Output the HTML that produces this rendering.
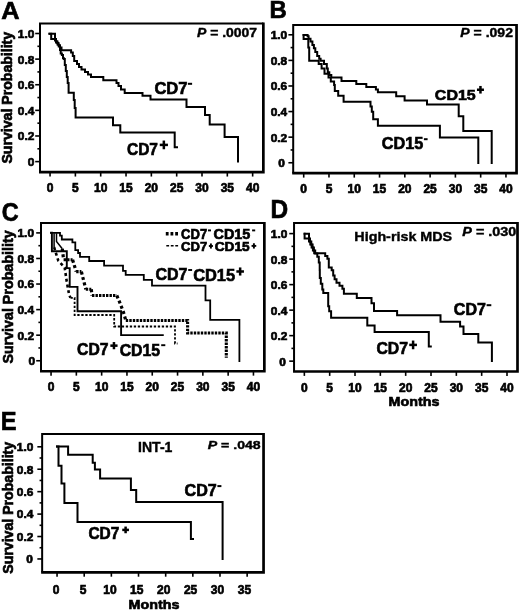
<!DOCTYPE html>
<html><head><meta charset="utf-8"><style>
html,body{margin:0;padding:0;background:#fff;}
svg{display:block;filter:grayscale(1);}
text{font-family:"Liberation Sans", sans-serif;font-weight:bold;fill:#000;stroke:#000;stroke-width:0.65px;}
.yl{font-size:11px;}
.xl{font-size:12px;}
.pv{stroke-width:0.4px;}
</style></head><body>
<svg width="520" height="611" viewBox="0 0 520 611">
<rect x="0" y="0" width="520" height="611" fill="#fff"/>
<text x="1.17" y="18.50" class="pl" style="font-size:24.71px" textLength="18.30" lengthAdjust="spacingAndGlyphs">A</text>
<text x="269.50" y="18.20" class="pl" style="font-size:24.27px" textLength="17.29" lengthAdjust="spacingAndGlyphs">B</text>
<text x="1.64" y="221.15" class="pl" style="font-size:25.71px" textLength="16.90" lengthAdjust="spacingAndGlyphs">C</text>
<text x="270.56" y="217.50" class="pl" style="font-size:26.02px" textLength="17.66" lengthAdjust="spacingAndGlyphs">D</text>
<text x="0.71" y="430.40" class="pl" style="font-size:25.58px" textLength="15.81" lengthAdjust="spacingAndGlyphs">E</text>
<path d="M40.0 172.15 V23.55 H263.35" fill="none" stroke="#000" stroke-width="2.0" stroke-linecap="butt"/>
<path d="M39.00 172.15 H263.35 V22.55" fill="none" stroke="#000" stroke-width="2.7" stroke-linecap="butt"/>
<line x1="35.20" y1="161.60" x2="40.0" y2="161.60" stroke="#000" stroke-width="1.6"/>
<text x="27.69" y="166.00" class="yl" textLength="6.61" lengthAdjust="spacingAndGlyphs">0</text>
<line x1="37.40" y1="148.79" x2="40.0" y2="148.79" stroke="#000" stroke-width="1.6"/>
<line x1="35.20" y1="135.98" x2="40.0" y2="135.98" stroke="#000" stroke-width="1.6"/>
<text x="17.79" y="140.38" class="yl" textLength="16.51" lengthAdjust="spacingAndGlyphs">0.2</text>
<line x1="37.40" y1="123.17" x2="40.0" y2="123.17" stroke="#000" stroke-width="1.6"/>
<line x1="35.20" y1="110.36" x2="40.0" y2="110.36" stroke="#000" stroke-width="1.6"/>
<text x="17.79" y="114.76" class="yl" textLength="16.51" lengthAdjust="spacingAndGlyphs">0.4</text>
<line x1="37.40" y1="97.55" x2="40.0" y2="97.55" stroke="#000" stroke-width="1.6"/>
<line x1="35.20" y1="84.74" x2="40.0" y2="84.74" stroke="#000" stroke-width="1.6"/>
<text x="17.79" y="89.14" class="yl" textLength="16.51" lengthAdjust="spacingAndGlyphs">0.6</text>
<line x1="37.40" y1="71.93" x2="40.0" y2="71.93" stroke="#000" stroke-width="1.6"/>
<line x1="35.20" y1="59.12" x2="40.0" y2="59.12" stroke="#000" stroke-width="1.6"/>
<text x="17.79" y="63.52" class="yl" textLength="16.51" lengthAdjust="spacingAndGlyphs">0.8</text>
<line x1="37.40" y1="46.31" x2="40.0" y2="46.31" stroke="#000" stroke-width="1.6"/>
<line x1="35.20" y1="33.50" x2="40.0" y2="33.50" stroke="#000" stroke-width="1.6"/>
<text x="17.79" y="37.90" class="yl" textLength="16.51" lengthAdjust="spacingAndGlyphs">1.0</text>
<line x1="50.05" y1="172.15" x2="50.05" y2="176.55" stroke="#000" stroke-width="1.6"/>
<text x="50.05" y="191.6" text-anchor="middle" class="xl">0</text>
<line x1="75.38" y1="172.15" x2="75.38" y2="176.55" stroke="#000" stroke-width="1.6"/>
<text x="75.38" y="191.6" text-anchor="middle" class="xl">5</text>
<line x1="100.70" y1="172.15" x2="100.70" y2="176.55" stroke="#000" stroke-width="1.6"/>
<text x="100.70" y="191.6" text-anchor="middle" class="xl">10</text>
<line x1="126.03" y1="172.15" x2="126.03" y2="176.55" stroke="#000" stroke-width="1.6"/>
<text x="126.03" y="191.6" text-anchor="middle" class="xl">15</text>
<line x1="151.35" y1="172.15" x2="151.35" y2="176.55" stroke="#000" stroke-width="1.6"/>
<text x="151.35" y="191.6" text-anchor="middle" class="xl">20</text>
<line x1="176.68" y1="172.15" x2="176.68" y2="176.55" stroke="#000" stroke-width="1.6"/>
<text x="176.68" y="191.6" text-anchor="middle" class="xl">25</text>
<line x1="202.00" y1="172.15" x2="202.00" y2="176.55" stroke="#000" stroke-width="1.6"/>
<text x="202.00" y="191.6" text-anchor="middle" class="xl">30</text>
<line x1="227.32" y1="172.15" x2="227.32" y2="176.55" stroke="#000" stroke-width="1.6"/>
<text x="227.32" y="191.6" text-anchor="middle" class="xl">35</text>
<line x1="252.65" y1="172.15" x2="252.65" y2="176.55" stroke="#000" stroke-width="1.6"/>
<text x="252.65" y="191.6" text-anchor="middle" class="xl">40</text>
<path d="M293.2 173.2 V24.95 H516.55" fill="none" stroke="#000" stroke-width="2.0" stroke-linecap="butt"/>
<path d="M292.20 173.2 H516.55 V23.95" fill="none" stroke="#000" stroke-width="2.7" stroke-linecap="butt"/>
<line x1="288.40" y1="162.75" x2="293.2" y2="162.75" stroke="#000" stroke-width="1.6"/>
<text x="278.29" y="167.15" class="yl" textLength="6.61" lengthAdjust="spacingAndGlyphs">0</text>
<line x1="290.60" y1="149.95" x2="293.2" y2="149.95" stroke="#000" stroke-width="1.6"/>
<line x1="288.40" y1="137.16" x2="293.2" y2="137.16" stroke="#000" stroke-width="1.6"/>
<text x="270.69" y="141.56" class="yl" textLength="16.51" lengthAdjust="spacingAndGlyphs">0.2</text>
<line x1="290.60" y1="124.37" x2="293.2" y2="124.37" stroke="#000" stroke-width="1.6"/>
<line x1="288.40" y1="111.57" x2="293.2" y2="111.57" stroke="#000" stroke-width="1.6"/>
<text x="270.69" y="115.97" class="yl" textLength="16.51" lengthAdjust="spacingAndGlyphs">0.4</text>
<line x1="290.60" y1="98.78" x2="293.2" y2="98.78" stroke="#000" stroke-width="1.6"/>
<line x1="288.40" y1="85.98" x2="293.2" y2="85.98" stroke="#000" stroke-width="1.6"/>
<text x="270.69" y="90.38" class="yl" textLength="16.51" lengthAdjust="spacingAndGlyphs">0.6</text>
<line x1="290.60" y1="73.19" x2="293.2" y2="73.19" stroke="#000" stroke-width="1.6"/>
<line x1="288.40" y1="60.39" x2="293.2" y2="60.39" stroke="#000" stroke-width="1.6"/>
<text x="270.69" y="64.79" class="yl" textLength="16.51" lengthAdjust="spacingAndGlyphs">0.8</text>
<line x1="290.60" y1="47.59" x2="293.2" y2="47.59" stroke="#000" stroke-width="1.6"/>
<line x1="288.40" y1="34.80" x2="293.2" y2="34.80" stroke="#000" stroke-width="1.6"/>
<text x="270.69" y="39.20" class="yl" textLength="16.51" lengthAdjust="spacingAndGlyphs">1.0</text>
<line x1="303.70" y1="173.2" x2="303.70" y2="177.60" stroke="#000" stroke-width="1.6"/>
<text x="303.70" y="193.0" text-anchor="middle" class="xl">0</text>
<line x1="328.98" y1="173.2" x2="328.98" y2="177.60" stroke="#000" stroke-width="1.6"/>
<text x="328.98" y="193.0" text-anchor="middle" class="xl">5</text>
<line x1="354.26" y1="173.2" x2="354.26" y2="177.60" stroke="#000" stroke-width="1.6"/>
<text x="354.26" y="193.0" text-anchor="middle" class="xl">10</text>
<line x1="379.54" y1="173.2" x2="379.54" y2="177.60" stroke="#000" stroke-width="1.6"/>
<text x="379.54" y="193.0" text-anchor="middle" class="xl">15</text>
<line x1="404.82" y1="173.2" x2="404.82" y2="177.60" stroke="#000" stroke-width="1.6"/>
<text x="404.82" y="193.0" text-anchor="middle" class="xl">20</text>
<line x1="430.11" y1="173.2" x2="430.11" y2="177.60" stroke="#000" stroke-width="1.6"/>
<text x="430.11" y="193.0" text-anchor="middle" class="xl">25</text>
<line x1="455.39" y1="173.2" x2="455.39" y2="177.60" stroke="#000" stroke-width="1.6"/>
<text x="455.39" y="193.0" text-anchor="middle" class="xl">30</text>
<line x1="480.67" y1="173.2" x2="480.67" y2="177.60" stroke="#000" stroke-width="1.6"/>
<text x="480.67" y="193.0" text-anchor="middle" class="xl">35</text>
<line x1="505.95" y1="173.2" x2="505.95" y2="177.60" stroke="#000" stroke-width="1.6"/>
<text x="505.95" y="193.0" text-anchor="middle" class="xl">40</text>
<path d="M41.0 371.25 V222.9 H264.35" fill="none" stroke="#000" stroke-width="2.0" stroke-linecap="butt"/>
<path d="M40.00 371.25 H264.35 V221.90" fill="none" stroke="#000" stroke-width="2.7" stroke-linecap="butt"/>
<line x1="36.20" y1="360.75" x2="41.0" y2="360.75" stroke="#000" stroke-width="1.6"/>
<text x="28.49" y="365.15" class="yl" textLength="6.61" lengthAdjust="spacingAndGlyphs">0</text>
<line x1="38.40" y1="347.96" x2="41.0" y2="347.96" stroke="#000" stroke-width="1.6"/>
<line x1="36.20" y1="335.18" x2="41.0" y2="335.18" stroke="#000" stroke-width="1.6"/>
<text x="17.49" y="339.58" class="yl" textLength="16.51" lengthAdjust="spacingAndGlyphs">0.2</text>
<line x1="38.40" y1="322.39" x2="41.0" y2="322.39" stroke="#000" stroke-width="1.6"/>
<line x1="36.20" y1="309.61" x2="41.0" y2="309.61" stroke="#000" stroke-width="1.6"/>
<text x="17.49" y="314.01" class="yl" textLength="16.51" lengthAdjust="spacingAndGlyphs">0.4</text>
<line x1="38.40" y1="296.82" x2="41.0" y2="296.82" stroke="#000" stroke-width="1.6"/>
<line x1="36.20" y1="284.04" x2="41.0" y2="284.04" stroke="#000" stroke-width="1.6"/>
<text x="17.49" y="288.44" class="yl" textLength="16.51" lengthAdjust="spacingAndGlyphs">0.6</text>
<line x1="38.40" y1="271.25" x2="41.0" y2="271.25" stroke="#000" stroke-width="1.6"/>
<line x1="36.20" y1="258.47" x2="41.0" y2="258.47" stroke="#000" stroke-width="1.6"/>
<text x="17.49" y="262.87" class="yl" textLength="16.51" lengthAdjust="spacingAndGlyphs">0.8</text>
<line x1="38.40" y1="245.69" x2="41.0" y2="245.69" stroke="#000" stroke-width="1.6"/>
<line x1="36.20" y1="232.90" x2="41.0" y2="232.90" stroke="#000" stroke-width="1.6"/>
<text x="17.49" y="237.30" class="yl" textLength="16.51" lengthAdjust="spacingAndGlyphs">1.0</text>
<line x1="51.05" y1="371.25" x2="51.05" y2="375.65" stroke="#000" stroke-width="1.6"/>
<text x="51.05" y="391.2" text-anchor="middle" class="xl">0</text>
<line x1="76.35" y1="371.25" x2="76.35" y2="375.65" stroke="#000" stroke-width="1.6"/>
<text x="76.35" y="391.2" text-anchor="middle" class="xl">5</text>
<line x1="101.65" y1="371.25" x2="101.65" y2="375.65" stroke="#000" stroke-width="1.6"/>
<text x="101.65" y="391.2" text-anchor="middle" class="xl">10</text>
<line x1="126.95" y1="371.25" x2="126.95" y2="375.65" stroke="#000" stroke-width="1.6"/>
<text x="126.95" y="391.2" text-anchor="middle" class="xl">15</text>
<line x1="152.25" y1="371.25" x2="152.25" y2="375.65" stroke="#000" stroke-width="1.6"/>
<text x="152.25" y="391.2" text-anchor="middle" class="xl">20</text>
<line x1="177.55" y1="371.25" x2="177.55" y2="375.65" stroke="#000" stroke-width="1.6"/>
<text x="177.55" y="391.2" text-anchor="middle" class="xl">25</text>
<line x1="202.85" y1="371.25" x2="202.85" y2="375.65" stroke="#000" stroke-width="1.6"/>
<text x="202.85" y="391.2" text-anchor="middle" class="xl">30</text>
<line x1="228.15" y1="371.25" x2="228.15" y2="375.65" stroke="#000" stroke-width="1.6"/>
<text x="228.15" y="391.2" text-anchor="middle" class="xl">35</text>
<line x1="253.45" y1="371.25" x2="253.45" y2="375.65" stroke="#000" stroke-width="1.6"/>
<text x="253.45" y="391.2" text-anchor="middle" class="xl">40</text>
<path d="M294.05 371.5 V223.1 H517.5" fill="none" stroke="#000" stroke-width="2.0" stroke-linecap="butt"/>
<path d="M293.05 371.5 H517.5 V222.10" fill="none" stroke="#000" stroke-width="2.7" stroke-linecap="butt"/>
<line x1="289.25" y1="361.15" x2="294.05" y2="361.15" stroke="#000" stroke-width="1.6"/>
<text x="279.39" y="365.55" class="yl" textLength="6.61" lengthAdjust="spacingAndGlyphs">0</text>
<line x1="291.45" y1="348.39" x2="294.05" y2="348.39" stroke="#000" stroke-width="1.6"/>
<line x1="289.25" y1="335.64" x2="294.05" y2="335.64" stroke="#000" stroke-width="1.6"/>
<text x="270.79" y="340.04" class="yl" textLength="16.51" lengthAdjust="spacingAndGlyphs">0.2</text>
<line x1="291.45" y1="322.88" x2="294.05" y2="322.88" stroke="#000" stroke-width="1.6"/>
<line x1="289.25" y1="310.13" x2="294.05" y2="310.13" stroke="#000" stroke-width="1.6"/>
<text x="270.79" y="314.53" class="yl" textLength="16.51" lengthAdjust="spacingAndGlyphs">0.4</text>
<line x1="291.45" y1="297.38" x2="294.05" y2="297.38" stroke="#000" stroke-width="1.6"/>
<line x1="289.25" y1="284.62" x2="294.05" y2="284.62" stroke="#000" stroke-width="1.6"/>
<text x="270.79" y="289.02" class="yl" textLength="16.51" lengthAdjust="spacingAndGlyphs">0.6</text>
<line x1="291.45" y1="271.87" x2="294.05" y2="271.87" stroke="#000" stroke-width="1.6"/>
<line x1="289.25" y1="259.11" x2="294.05" y2="259.11" stroke="#000" stroke-width="1.6"/>
<text x="270.79" y="263.51" class="yl" textLength="16.51" lengthAdjust="spacingAndGlyphs">0.8</text>
<line x1="291.45" y1="246.35" x2="294.05" y2="246.35" stroke="#000" stroke-width="1.6"/>
<line x1="289.25" y1="233.60" x2="294.05" y2="233.60" stroke="#000" stroke-width="1.6"/>
<text x="270.79" y="238.00" class="yl" textLength="16.51" lengthAdjust="spacingAndGlyphs">1.0</text>
<line x1="304.35" y1="371.5" x2="304.35" y2="375.90" stroke="#000" stroke-width="1.6"/>
<text x="304.35" y="391.8" text-anchor="middle" class="xl">0</text>
<line x1="329.68" y1="371.5" x2="329.68" y2="375.90" stroke="#000" stroke-width="1.6"/>
<text x="329.68" y="391.8" text-anchor="middle" class="xl">5</text>
<line x1="355.01" y1="371.5" x2="355.01" y2="375.90" stroke="#000" stroke-width="1.6"/>
<text x="355.01" y="391.8" text-anchor="middle" class="xl">10</text>
<line x1="380.34" y1="371.5" x2="380.34" y2="375.90" stroke="#000" stroke-width="1.6"/>
<text x="380.34" y="391.8" text-anchor="middle" class="xl">15</text>
<line x1="405.68" y1="371.5" x2="405.68" y2="375.90" stroke="#000" stroke-width="1.6"/>
<text x="405.68" y="391.8" text-anchor="middle" class="xl">20</text>
<line x1="431.01" y1="371.5" x2="431.01" y2="375.90" stroke="#000" stroke-width="1.6"/>
<text x="431.01" y="391.8" text-anchor="middle" class="xl">25</text>
<line x1="456.34" y1="371.5" x2="456.34" y2="375.90" stroke="#000" stroke-width="1.6"/>
<text x="456.34" y="391.8" text-anchor="middle" class="xl">30</text>
<line x1="481.67" y1="371.5" x2="481.67" y2="375.90" stroke="#000" stroke-width="1.6"/>
<text x="481.67" y="391.8" text-anchor="middle" class="xl">35</text>
<line x1="507.00" y1="371.5" x2="507.00" y2="375.90" stroke="#000" stroke-width="1.6"/>
<text x="507.00" y="391.8" text-anchor="middle" class="xl">40</text>
<path d="M42.15 572.3 V433.9 H263.55" fill="none" stroke="#000" stroke-width="2.0" stroke-linecap="butt"/>
<path d="M41.15 572.3 H263.55 V432.90" fill="none" stroke="#000" stroke-width="2.7" stroke-linecap="butt"/>
<line x1="37.35" y1="558.95" x2="42.15" y2="558.95" stroke="#000" stroke-width="1.6"/>
<text x="26.29" y="563.35" class="yl" textLength="6.61" lengthAdjust="spacingAndGlyphs">0</text>
<line x1="39.55" y1="547.74" x2="42.15" y2="547.74" stroke="#000" stroke-width="1.6"/>
<line x1="37.35" y1="536.52" x2="42.15" y2="536.52" stroke="#000" stroke-width="1.6"/>
<text x="16.89" y="540.92" class="yl" textLength="16.51" lengthAdjust="spacingAndGlyphs">0.2</text>
<line x1="39.55" y1="525.31" x2="42.15" y2="525.31" stroke="#000" stroke-width="1.6"/>
<line x1="37.35" y1="514.09" x2="42.15" y2="514.09" stroke="#000" stroke-width="1.6"/>
<text x="16.89" y="518.49" class="yl" textLength="16.51" lengthAdjust="spacingAndGlyphs">0.4</text>
<line x1="39.55" y1="502.88" x2="42.15" y2="502.88" stroke="#000" stroke-width="1.6"/>
<line x1="37.35" y1="491.66" x2="42.15" y2="491.66" stroke="#000" stroke-width="1.6"/>
<text x="16.89" y="496.06" class="yl" textLength="16.51" lengthAdjust="spacingAndGlyphs">0.6</text>
<line x1="39.55" y1="480.45" x2="42.15" y2="480.45" stroke="#000" stroke-width="1.6"/>
<line x1="37.35" y1="469.23" x2="42.15" y2="469.23" stroke="#000" stroke-width="1.6"/>
<text x="16.89" y="473.63" class="yl" textLength="16.51" lengthAdjust="spacingAndGlyphs">0.8</text>
<line x1="39.55" y1="458.01" x2="42.15" y2="458.01" stroke="#000" stroke-width="1.6"/>
<line x1="37.35" y1="446.80" x2="42.15" y2="446.80" stroke="#000" stroke-width="1.6"/>
<text x="16.89" y="451.20" class="yl" textLength="16.51" lengthAdjust="spacingAndGlyphs">1.0</text>
<line x1="57.05" y1="572.3" x2="57.05" y2="576.70" stroke="#000" stroke-width="1.6"/>
<text x="56.10" y="593.8" text-anchor="middle" class="xl">0</text>
<line x1="84.21" y1="572.3" x2="84.21" y2="576.70" stroke="#000" stroke-width="1.6"/>
<text x="83.00" y="593.8" text-anchor="middle" class="xl">5</text>
<line x1="111.36" y1="572.3" x2="111.36" y2="576.70" stroke="#000" stroke-width="1.6"/>
<text x="109.90" y="593.8" text-anchor="middle" class="xl">10</text>
<line x1="138.52" y1="572.3" x2="138.52" y2="576.70" stroke="#000" stroke-width="1.6"/>
<text x="136.80" y="593.8" text-anchor="middle" class="xl">15</text>
<line x1="165.68" y1="572.3" x2="165.68" y2="576.70" stroke="#000" stroke-width="1.6"/>
<text x="163.70" y="593.8" text-anchor="middle" class="xl">20</text>
<line x1="192.84" y1="572.3" x2="192.84" y2="576.70" stroke="#000" stroke-width="1.6"/>
<text x="190.60" y="593.8" text-anchor="middle" class="xl">25</text>
<line x1="219.99" y1="572.3" x2="219.99" y2="576.70" stroke="#000" stroke-width="1.6"/>
<text x="217.50" y="593.8" text-anchor="middle" class="xl">30</text>
<line x1="247.15" y1="572.3" x2="247.15" y2="576.70" stroke="#000" stroke-width="1.6"/>
<text x="244.40" y="593.8" text-anchor="middle" class="xl">35</text>
<text x="0" y="0" class="yt" style="font-size:14px" textLength="131.78" lengthAdjust="spacingAndGlyphs" transform="translate(12.30,163.61) rotate(-90)">Survival Probability</text>
<text x="0" y="0" class="yt" style="font-size:14px" textLength="133.19" lengthAdjust="spacingAndGlyphs" transform="translate(12.50,363.61) rotate(-90)">Survival Probability</text>
<text x="0" y="0" class="yt" style="font-size:14px" textLength="131.88" lengthAdjust="spacingAndGlyphs" transform="translate(13.20,573.71) rotate(-90)">Survival Probability</text>
<text x="128.54" y="608.67" class="mt" style="font-size:13.07px" textLength="50.84" lengthAdjust="spacingAndGlyphs">Months</text>
<text x="388.54" y="406.37" class="mt" style="font-size:13.34px" textLength="50.84" lengthAdjust="spacingAndGlyphs">Months</text>
<text x="196.97" y="37.07" class="pv" style="font-size:12.99px" textLength="60.15" lengthAdjust="spacingAndGlyphs"><tspan font-style="italic">P</tspan> = .0007</text>
<path d="M49.5 33.8 H55 V39 H56 V41.3 H57.3 V43 H58.5 V45.3 H60 V47.6 H61.5 V50.2 H71.1 V52.5 H72.8 V56 H74.2 V61 H77 V64 H79 V67 H81.5 V69.5 H85 V72 H88 V74.5 H91 V77 H103.3 V80.2 H116.5 V83 H118.5 V86 H121 V89.5 H124.7 V93 H142.5 V95.8 H150.5 V99.6 H186.5 V106.9 H205 V115 H209.7 V124.6 H224.6 V136.9 H238 V161.6" fill="none" stroke="#000" stroke-width="2.0" stroke-linejoin="miter" stroke-linecap="square"/>
<path d="M49.5 33.8 H51.2 V39 H55 V40.5 H56 V42.5 H57.5 V44.5 H58.8 V46.5 H60 V50 H60.7 V53.4 H61.9 V55.1 H63 V58 H63.7 V59 H64.8 V65 H65.8 V71 H66.8 V77 H67.7 V83 H68.6 V92.8 H73.8 V100 H74.7 V108 H75.6 V117.5 H113 V125.2 H120.3 V132.4 H174.7 V147.3 H177" fill="none" stroke="#000" stroke-width="2.0" stroke-linejoin="miter" stroke-linecap="square"/>
<text x="154.42" y="93.54" class="cl" style="font-size:16.24px" textLength="33.11" lengthAdjust="spacingAndGlyphs">CD7</text>
<rect x="187.90" y="82.80" width="4.20" height="2.0" fill="#000"/>
<text x="126.96" y="154.74" class="cl" style="font-size:16.81px" textLength="31.02" lengthAdjust="spacingAndGlyphs">CD7</text>
<rect x="159.75" y="143.65" width="8.20" height="2.5" fill="#000"/>
<rect x="162.60" y="140.55" width="2.5" height="8.70" fill="#000"/>
<text x="460.36" y="37.27" class="pv" style="font-size:12.85px" textLength="52.60" lengthAdjust="spacingAndGlyphs"><tspan font-style="italic">P</tspan> = .092</text>
<path d="M303.6 35 V39 H308.3 V47.5 H309.2 V60.8 H318.7 V64.1 H321.6 V68.5 H324.5 V73.8 H328.5 V77.5 H330.8 V81.5 H334.1 V84.9 H334.8 V91 H338.2 V95.7 H343.6 V101.7 H370.5 V106.4 H371.8 V111.8 H373.2 V119.2 H377.9 V125.8 H439.9 V137.6 H478.3 V163" fill="none" stroke="#000" stroke-width="2.0" stroke-linejoin="miter" stroke-linecap="square"/>
<path d="M303.6 35 H307.6 V36.3 H308.6 V38.7 H310.5 V41.5 H312.4 V44.9 H313.9 V48.3 H315.3 V52.1 H317.2 V56 H319.2 V58.8 H320.6 V60.8 H324 V64.1 H326.8 V68.5 H327.8 V72.3 H329.3 V75 H331.3 V77.6 H341.5 V80.9 H356.3 V84 H366.3 V87 H375.9 V89.6 H377.9 V92.3 H396.2 V96.2 H404.6 V100.6 H427 V104.6 H458.7 V116.3 H463.3 V131 H491.7 V163" fill="none" stroke="#000" stroke-width="2.0" stroke-linejoin="miter" stroke-linecap="square"/>
<text x="434.84" y="99.65" class="cl" style="font-size:15.40px" textLength="40.90" lengthAdjust="spacingAndGlyphs">CD15</text>
<rect x="476.95" y="88.50" width="7.00" height="2.5" fill="#000"/>
<rect x="479.20" y="85.95" width="2.5" height="7.60" fill="#000"/>
<text x="381.83" y="148.64" class="cl" style="font-size:16.67px" textLength="41.52" lengthAdjust="spacingAndGlyphs">CD15</text>
<rect x="423.90" y="138.20" width="3.70" height="2.0" fill="#000"/>
<path d="M165.8 233.8 H178.2" fill="none" stroke="#000" stroke-width="3.4" stroke-linejoin="miter" stroke-linecap="butt" stroke-dasharray="2.8,1.9"/>
<path d="M166.3 245.8 H178.2" fill="none" stroke="#000" stroke-width="1.5" stroke-linejoin="miter" stroke-linecap="butt" stroke-dasharray="2.8,1.7"/>
<text x="181.06" y="238.56" class="lg" style="font-size:13.84px" textLength="26.11" lengthAdjust="spacingAndGlyphs">CD7</text>
<rect x="208.00" y="229.45" width="3.00" height="1.9" fill="#000"/>
<text x="213.51" y="238.56" class="lg" style="font-size:13.84px" textLength="36.79" lengthAdjust="spacingAndGlyphs">CD15</text>
<rect x="252.10" y="229.45" width="3.10" height="1.9" fill="#000"/>
<text x="181.06" y="251.27" class="lg" style="font-size:12.99px" textLength="26.11" lengthAdjust="spacingAndGlyphs">CD7</text>
<rect x="208.85" y="245.05" width="4.10" height="1.9" fill="#000"/>
<rect x="209.95" y="243.45" width="1.9" height="5.10" fill="#000"/>
<text x="214.74" y="251.27" class="lg" style="font-size:12.99px" textLength="34.94" lengthAdjust="spacingAndGlyphs">CD15</text>
<rect x="251.55" y="244.95" width="4.70" height="1.9" fill="#000"/>
<rect x="252.95" y="243.25" width="1.9" height="5.30" fill="#000"/>
<path d="M51.1 232.8 H60 V235.7 H61.8 V239.5 H72.4 V242.4 H75.3 V250.1 H78.1 V253 H80 V256.8 H89.2 V261 H104.1 V265.7 H123 V270.9 H125.7 V274.9 H143.8 V279.8 H152 V285.6 H205.5 V300.3 H210.2 V319.8 H239.4 V361" fill="none" stroke="#000" stroke-width="1.8" stroke-linejoin="miter" stroke-linecap="square"/>
<path d="M51.1 232.8 H51.9 V251.2 H66.8 V268.1 H69.7 V286.9 H77.5 V311.3 H121.1 V335.1 H162.8" fill="none" stroke="#000" stroke-width="1.9" stroke-linejoin="miter" stroke-linecap="square"/>
<path d="M56.5 233.2 V241.5 L62.3 248.7" fill="none" stroke="#000" stroke-width="1.5" stroke-linejoin="miter" stroke-linecap="butt"/>
<path d="M62.30 248.70 L63.60 259.80" fill="none" stroke="#000" stroke-width="3.2" stroke-linejoin="miter" stroke-dasharray="3,2.6"/>
<path d="M63.60 259.80 L72.60 259.80" fill="none" stroke="#000" stroke-width="3.1" stroke-linejoin="miter" stroke-dasharray="2.4,1.1"/>
<path d="M72.60 259.80 L76.20 271.60" fill="none" stroke="#000" stroke-width="3.2" stroke-linejoin="miter" stroke-dasharray="3,2.6"/>
<path d="M76.20 271.60 L81.40 271.60" fill="none" stroke="#000" stroke-width="3.1" stroke-linejoin="miter" stroke-dasharray="2.4,1.1"/>
<path d="M81.40 271.60 L85.80 289.30" fill="none" stroke="#000" stroke-width="3.2" stroke-linejoin="miter" stroke-dasharray="3,2.6"/>
<path d="M85.80 289.30 L91.30 289.30" fill="none" stroke="#000" stroke-width="3.1" stroke-linejoin="miter" stroke-dasharray="2.4,1.1"/>
<path d="M91.30 289.30 L92.00 295.50" fill="none" stroke="#000" stroke-width="3.2" stroke-linejoin="miter" stroke-dasharray="3,2.6"/>
<path d="M92.00 295.50 L116.80 295.50" fill="none" stroke="#000" stroke-width="3.1" stroke-linejoin="miter" stroke-dasharray="2.4,1.1"/>
<path d="M116.80 295.50 L120.00 303.00 L123.50 312.30 L125.80 320.50" fill="none" stroke="#000" stroke-width="3.2" stroke-linejoin="miter" stroke-dasharray="3,2.6"/>
<path d="M125.80 320.50 L187.60 320.50 L187.60 333.00 L226.30 333.00 L226.30 357.80" fill="none" stroke="#000" stroke-width="3.1" stroke-linejoin="miter" stroke-dasharray="2.4,1.1"/>
<path d="M54.1 233.2 V247.2" fill="none" stroke="#000" stroke-width="1.5" stroke-linejoin="miter" stroke-linecap="butt"/>
<path d="M54.10 247.20 L56.40 254.70 L58.30 260.60 L64.70 267.50 L66.70 281.30 L69.20 295.00 L70.50 297.80" fill="none" stroke="#000" stroke-width="2.6" stroke-linejoin="miter" stroke-dasharray="3,2.8"/>
<path d="M70.50 297.80 L74.60 297.80 L74.60 315.00 L114.20 315.00 L114.20 326.50 L175.00 326.50 L175.00 343.50 L177.50 343.50" fill="none" stroke="#000" stroke-width="1.8" stroke-linejoin="miter" stroke-dasharray="2.3,1.7"/>
<text x="155.44" y="280.34" class="cl" style="font-size:16.81px" textLength="31.96" lengthAdjust="spacingAndGlyphs">CD7</text>
<rect x="188.20" y="269.05" width="3.90" height="1.9" fill="#000"/>
<text x="193.13" y="280.53" class="cl" style="font-size:17.09px" textLength="42.03" lengthAdjust="spacingAndGlyphs">CD15</text>
<rect x="236.35" y="270.25" width="7.60" height="2.5" fill="#000"/>
<rect x="238.90" y="267.45" width="2.5" height="8.10" fill="#000"/>
<text x="77.06" y="355.24" class="cl" style="font-size:16.81px" textLength="31.44" lengthAdjust="spacingAndGlyphs">CD7</text>
<rect x="110.35" y="344.40" width="7.20" height="2.5" fill="#000"/>
<rect x="112.70" y="342.05" width="2.5" height="7.20" fill="#000"/>
<text x="119.65" y="355.54" class="cl" style="font-size:16.81px" textLength="40.49" lengthAdjust="spacingAndGlyphs">CD15</text>
<rect x="161.20" y="344.25" width="4.10" height="1.9" fill="#000"/>
<text x="354.34" y="241.47" class="pv" style="font-size:13.56px" textLength="97.82" lengthAdjust="spacingAndGlyphs">High-risk MDS</text>
<text x="462.34" y="236.46" class="pv" style="font-size:12.12px" textLength="53.95" lengthAdjust="spacingAndGlyphs"><tspan font-style="italic">P</tspan> = .030</text>
<path d="M304.6 233.7 H309 V238.6 V241.5 H310.3 V244.5 H311.6 V247.5 H312.9 V250.5 H314.2 V253.2 H325.2 V255.9 H327.4 V258.8 H328.8 V267.4 H331.7 V270.3 H333.2 V275.5 H334.6 V279.3 H336.5 V282.8 H339.5 V285.7 H342.4 V288.7 H343.9 V293.7 H356.8 V298.1 H371.5 V303.3 H374 V311.1 H397.1 V315.3 H440.5 V321.7 H460.1 V326.5 H463.5 V334 H478.3 V342.4 H491.9 V361" fill="none" stroke="#000" stroke-width="2.0" stroke-linejoin="miter" stroke-linecap="square"/>
<path d="M304.6 233.7 V238.6 H310 V241.5 H311.3 V244.5 H312.6 V247.5 H313.9 V250.5 H315.2 V253.5 H317.3 V256.8 H318.8 V262.6 H319.7 V270 H319.8 V277.9 H320.8 V283.8 H322.3 V289.6 H323.3 V293.1 H328.2 V306.3 H329.2 V311.3 H331.1 V317.7 H367.3 V325.4 H374.6 V331.9 H428.8 V346.4 H430.8" fill="none" stroke="#000" stroke-width="2.0" stroke-linejoin="miter" stroke-linecap="square"/>
<text x="453.84" y="315.34" class="cl" style="font-size:16.53px" textLength="32.06" lengthAdjust="spacingAndGlyphs">CD7</text>
<rect x="486.60" y="304.20" width="4.70" height="2.0" fill="#000"/>
<text x="376.45" y="354.29" class="cl" style="font-size:16.17px" textLength="31.54" lengthAdjust="spacingAndGlyphs">CD7</text>
<rect x="409.25" y="343.65" width="7.70" height="2.5" fill="#000"/>
<rect x="411.85" y="340.55" width="2.5" height="8.70" fill="#000"/>
<text x="138.08" y="451.50" class="pv" style="font-size:14.54px" textLength="34.30" lengthAdjust="spacingAndGlyphs">INT-1</text>
<text x="207.76" y="449.19" class="pv" style="font-size:11.30px" textLength="52.98" lengthAdjust="spacingAndGlyphs"><tspan font-style="italic">P</tspan> = .048</text>
<path d="M57 446.6 H68.1 V454.7 H92.7 V462.8 H94.9 V469.5 H100.1 V478.6 H130.9 V489.9 H136.2 V501.9 H222.6 V558.9" fill="none" stroke="#000" stroke-width="2.0" stroke-linejoin="miter" stroke-linecap="square"/>
<path d="M57 446.6 H58.5 V465.8 H61.5 V483.4 H64.4 V503 H77.5 V521.9 H190.9 V539.1 H193" fill="none" stroke="#000" stroke-width="2.0" stroke-linejoin="miter" stroke-linecap="square"/>
<text x="184.54" y="495.54" class="cl" style="font-size:16.10px" textLength="32.17" lengthAdjust="spacingAndGlyphs">CD7</text>
<rect x="217.40" y="485.10" width="4.00" height="2.0" fill="#000"/>
<text x="88.47" y="539.34" class="cl" style="font-size:16.10px" textLength="30.91" lengthAdjust="spacingAndGlyphs">CD7</text>
<rect x="122.25" y="528.65" width="6.70" height="2.5" fill="#000"/>
<rect x="124.35" y="526.55" width="2.5" height="6.70" fill="#000"/>
</svg>
</body></html>
